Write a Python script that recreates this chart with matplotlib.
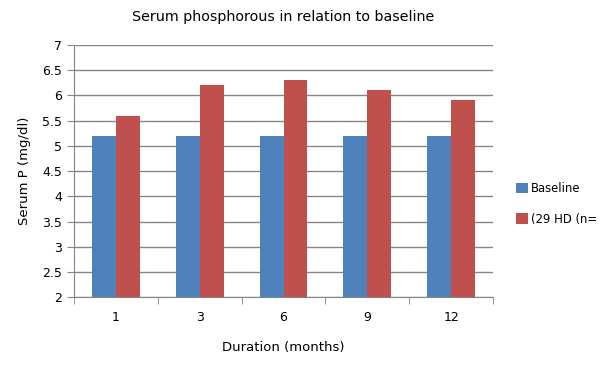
import numpy as np
import matplotlib
matplotlib.use('Agg')
import matplotlib.pyplot as plt

# Data
durations = ['1', '3', '6', '9', '12']
baseline = [5.2, 5.2, 5.2, 5.2, 5.2]
hd_group = [5.6, 6.2, 6.3, 6.1, 5.9]
series_names = ['Baseline', '(29 HD (n=']

plt.rcParams['font.family'] = ['DejaVu Sans']

fig = plt.figure(figsize=(6, 3.66), dpi=100)
ax = fig.add_axes([0.123, 0.188, 0.699, 0.689])

x = np.arange(len(durations))
w = 0.2857
ax.bar(x - w / 2, baseline, w, color='#4f81bd', label=series_names[0], zorder=3)
ax.bar(x + w / 2, hd_group, w, color='#c0504d', label=series_names[1], zorder=3)

ax.set_ylim(2, 7)
ax.set_yticks(np.arange(2, 7.01, 0.5))
ax.set_yticklabels(['2', '2.5', '3', '3.5', '4', '4.5', '5', '5.5', '6', '6.5', '7'])
ax.yaxis.grid(True, color='#868686', linewidth=1, zorder=0)

ax.set_xlim(-0.5, len(durations) - 0.5)
ax.set_xticks(x)
ax.set_xticklabels(durations)
ax.set_xticks(np.arange(-0.5, len(durations), 1), minor=True)
ax.tick_params(axis='x', which='major', length=0, pad=10, labelsize=9)
ax.tick_params(axis='x', which='minor', length=5, color='#868686')
ax.tick_params(axis='y', length=5, color='#868686', labelsize=9)

for side in ['top', 'right']:
    ax.spines[side].set_visible(False)
for side in ['left', 'bottom']:
    ax.spines[side].set_color('#868686')

ax.set_title('Serum phosphorous in relation to baseline', fontsize=10.3, pad=17)
ax.set_xlabel('Duration (months)', fontsize=9.5, labelpad=12)
ax.set_ylabel('Serum P (mg/dl)', fontsize=9.5, labelpad=8)

ax.legend(loc='center left', bbox_to_anchor=(1.035, 0.37), frameon=False,
          fontsize=8.4, handlelength=1.0, handleheight=1.0, labelspacing=1.5,
          handletextpad=0.3, borderaxespad=0.3)

fig.savefig('out.png', dpi=100)
